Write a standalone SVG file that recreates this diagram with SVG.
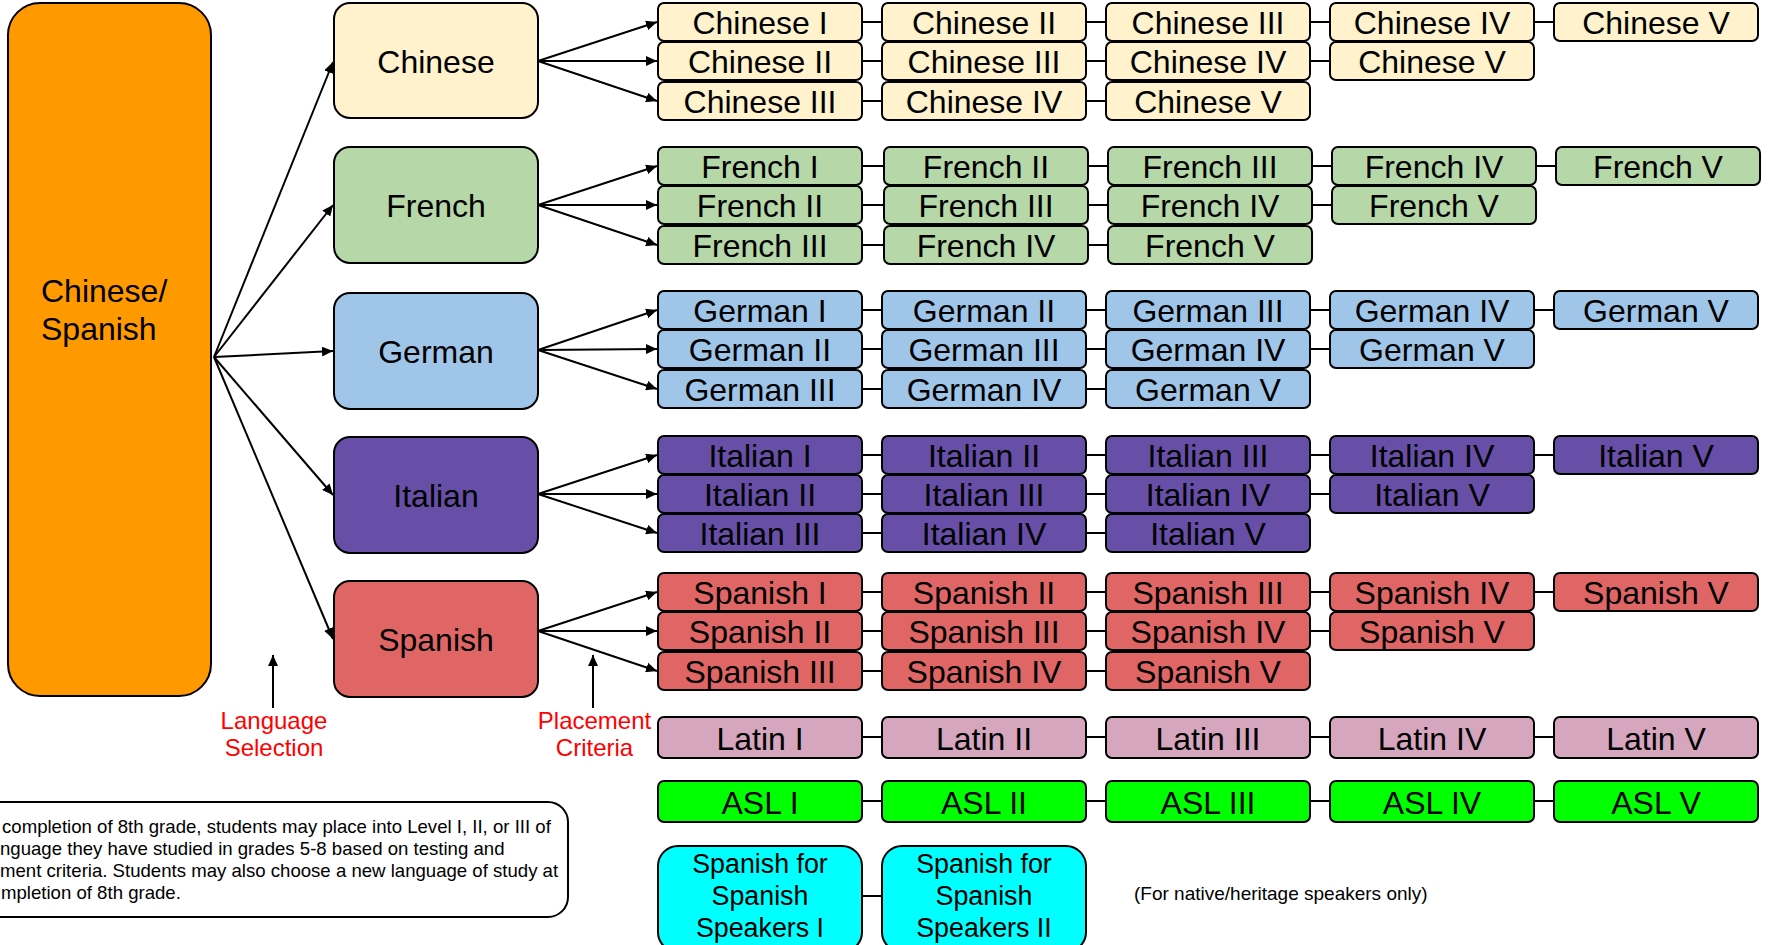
<svg xmlns="http://www.w3.org/2000/svg" width="1772" height="945" viewBox="0 0 1772 945">
<style>
.b{stroke:#000;stroke-width:2}
.t{font-family:"Liberation Sans",Arial,sans-serif;font-size:32px;text-anchor:middle;fill:#000}
.zh{fill:#FFF2CC}.fr{fill:#B6D7A8}.de{fill:#9FC5E8}.it{fill:#674EA7}.es{fill:#E06666}.la{fill:#D5A6BD}.asl{fill:#00FF00}.ss{fill:#00FFFF}.or{fill:#FF9900}
.c{stroke:#000;stroke-width:2;fill:none}
.a{marker-end:url(#ah)}
.red{font-family:"Liberation Sans",Arial,sans-serif;font-size:24px;text-anchor:middle;fill:#FF0000}
.note{font-family:"Liberation Sans",Arial,sans-serif;font-size:18.6px;fill:#000}
.sm{font-family:"Liberation Sans",Arial,sans-serif;font-size:19px;fill:#000}
.s26{font-family:"Liberation Sans",Arial,sans-serif;font-size:26.8px;text-anchor:middle;fill:#000}
</style>
<defs>
<marker id="ah" markerUnits="userSpaceOnUse" markerWidth="11" markerHeight="10" refX="11" refY="5" orient="auto">
<path d="M0,0 L11,5 L0,10 z" fill="#000"/>
</marker>
</defs>
<rect width="1772" height="945" fill="#fff"/>

<g id="connectors">
<path class="c a" d="M214,357 L333,62"/>
<path class="c a" d="M214,357 L333,205"/>
<path class="c a" d="M214,357 L333,351"/>
<path class="c a" d="M214,357 L333,495"/>
<path class="c a" d="M214,357 L333,639"/>
<path class="c a" d="M538,61 L657,22"/><path class="c a" d="M538,61 L657,61"/><path class="c a" d="M538,61 L657,101"/>
<path class="c a" d="M538,205 L657,166"/><path class="c a" d="M538,205 L657,205"/><path class="c a" d="M538,205 L657,245"/>
<path class="c a" d="M538,350 L657,310"/><path class="c a" d="M538,350 L657,349"/><path class="c a" d="M538,350 L657,389"/>
<path class="c a" d="M538,494 L657,455"/><path class="c a" d="M538,494 L657,494"/><path class="c a" d="M538,494 L657,533"/>
<path class="c a" d="M538,631 L657,592"/><path class="c a" d="M538,631 L657,631"/><path class="c a" d="M538,631 L657,671"/>
<path class="c a" d="M273,708 L273,655"/>
<path class="c a" d="M593,708 L593,655"/>
<path class="c" d="M862,22H882M1086,22H1106M1310,22H1330M1534,22H1554M862,61H882M1086,61H1106M1310,61H1330M862,101H882M1086,101H1106"/>
<path class="c" d="M862,166H884M1088,166H1108M1312,166H1332M1536,166H1556M862,205H884M1088,205H1108M1312,205H1332M862,245H884M1088,245H1108"/>
<path class="c" d="M862,310H882M1086,310H1106M1310,310H1330M1534,310H1554M862,349H882M1086,349H1106M1310,349H1330M862,389H882M1086,389H1106"/>
<path class="c" d="M862,455H882M1086,455H1106M1310,455H1330M1534,455H1554M862,494H882M1086,494H1106M1310,494H1330M862,533H882M1086,533H1106"/>
<path class="c" d="M862,592H882M1086,592H1106M1310,592H1330M1534,592H1554M862,631H882M1086,631H1106M1310,631H1330M862,671H882M1086,671H1106"/>
<path class="c" d="M862,737H882M1086,737H1106M1310,737H1330M1534,737H1554"/>
<path class="c" d="M862,801H882M1086,801H1106M1310,801H1330M1534,801H1554"/>
<path class="c" d="M862,896H882"/>
</g>

<g id="chinese-spanish"><rect class="b or" x="8" y="3" width="203" height="693" rx="32"/><text class="t" style="text-anchor:start" x="41" y="302">Chinese/</text><text class="t" style="text-anchor:start" x="41" y="340">Spanish</text></g>

<g id="chinese"><rect class="b zh" x="334" y="3" width="204" height="115" rx="16"/><text class="t" x="436" y="72.5">Chinese</text></g>
<g id="french"><rect class="b fr" x="334" y="147" width="204" height="116" rx="16"/><text class="t" x="436" y="217">French</text></g>
<g id="german"><rect class="b de" x="334" y="293" width="204" height="116" rx="16"/><text class="t" x="436" y="363">German</text></g>
<g id="italian"><rect class="b it" x="334" y="437" width="204" height="116" rx="16"/><text class="t" x="436" y="507">Italian</text></g>
<g id="spanish"><rect class="b es" x="334" y="581" width="204" height="116" rx="16"/><text class="t" x="436" y="651">Spanish</text></g>

<g id="zh-r1-c1"><rect class="b zh" x="658" y="3" width="204" height="38" rx="6"/><text class="t" x="760" y="33.5">Chinese I</text></g>
<g id="zh-r1-c2"><rect class="b zh" x="882" y="3" width="204" height="38" rx="6"/><text class="t" x="984" y="33.5">Chinese II</text></g>
<g id="zh-r1-c3"><rect class="b zh" x="1106" y="3" width="204" height="38" rx="6"/><text class="t" x="1208" y="33.5">Chinese III</text></g>
<g id="zh-r1-c4"><rect class="b zh" x="1330" y="3" width="204" height="38" rx="6"/><text class="t" x="1432" y="33.5">Chinese IV</text></g>
<g id="zh-r1-c5"><rect class="b zh" x="1554" y="3" width="204" height="38" rx="6"/><text class="t" x="1656" y="33.5">Chinese V</text></g>
<g id="zh-r2-c1"><rect class="b zh" x="658" y="42" width="204" height="38" rx="6"/><text class="t" x="760" y="72.5">Chinese II</text></g>
<g id="zh-r2-c2"><rect class="b zh" x="882" y="42" width="204" height="38" rx="6"/><text class="t" x="984" y="72.5">Chinese III</text></g>
<g id="zh-r2-c3"><rect class="b zh" x="1106" y="42" width="204" height="38" rx="6"/><text class="t" x="1208" y="72.5">Chinese IV</text></g>
<g id="zh-r2-c4"><rect class="b zh" x="1330" y="42" width="204" height="38" rx="6"/><text class="t" x="1432" y="72.5">Chinese V</text></g>
<g id="zh-r3-c1"><rect class="b zh" x="658" y="82" width="204" height="38" rx="6"/><text class="t" x="760" y="112.5">Chinese III</text></g>
<g id="zh-r3-c2"><rect class="b zh" x="882" y="82" width="204" height="38" rx="6"/><text class="t" x="984" y="112.5">Chinese IV</text></g>
<g id="zh-r3-c3"><rect class="b zh" x="1106" y="82" width="204" height="38" rx="6"/><text class="t" x="1208" y="112.5">Chinese V</text></g>

<g id="fr-r1-c1"><rect class="b fr" x="658" y="147" width="204" height="38" rx="6"/><text class="t" x="760" y="177.5">French I</text></g>
<g id="fr-r1-c2"><rect class="b fr" x="884" y="147" width="204" height="38" rx="6"/><text class="t" x="986" y="177.5">French II</text></g>
<g id="fr-r1-c3"><rect class="b fr" x="1108" y="147" width="204" height="38" rx="6"/><text class="t" x="1210" y="177.5">French III</text></g>
<g id="fr-r1-c4"><rect class="b fr" x="1332" y="147" width="204" height="38" rx="6"/><text class="t" x="1434" y="177.5">French IV</text></g>
<g id="fr-r1-c5"><rect class="b fr" x="1556" y="147" width="204" height="38" rx="6"/><text class="t" x="1658" y="177.5">French V</text></g>
<g id="fr-r2-c1"><rect class="b fr" x="658" y="186" width="204" height="38" rx="6"/><text class="t" x="760" y="216.5">French II</text></g>
<g id="fr-r2-c2"><rect class="b fr" x="884" y="186" width="204" height="38" rx="6"/><text class="t" x="986" y="216.5">French III</text></g>
<g id="fr-r2-c3"><rect class="b fr" x="1108" y="186" width="204" height="38" rx="6"/><text class="t" x="1210" y="216.5">French IV</text></g>
<g id="fr-r2-c4"><rect class="b fr" x="1332" y="186" width="204" height="38" rx="6"/><text class="t" x="1434" y="216.5">French V</text></g>
<g id="fr-r3-c1"><rect class="b fr" x="658" y="226" width="204" height="38" rx="6"/><text class="t" x="760" y="256.5">French III</text></g>
<g id="fr-r3-c2"><rect class="b fr" x="884" y="226" width="204" height="38" rx="6"/><text class="t" x="986" y="256.5">French IV</text></g>
<g id="fr-r3-c3"><rect class="b fr" x="1108" y="226" width="204" height="38" rx="6"/><text class="t" x="1210" y="256.5">French V</text></g>

<g id="de-r1-c1"><rect class="b de" x="658" y="291" width="204" height="38" rx="6"/><text class="t" x="760" y="321.5">German I</text></g>
<g id="de-r1-c2"><rect class="b de" x="882" y="291" width="204" height="38" rx="6"/><text class="t" x="984" y="321.5">German II</text></g>
<g id="de-r1-c3"><rect class="b de" x="1106" y="291" width="204" height="38" rx="6"/><text class="t" x="1208" y="321.5">German III</text></g>
<g id="de-r1-c4"><rect class="b de" x="1330" y="291" width="204" height="38" rx="6"/><text class="t" x="1432" y="321.5">German IV</text></g>
<g id="de-r1-c5"><rect class="b de" x="1554" y="291" width="204" height="38" rx="6"/><text class="t" x="1656" y="321.5">German V</text></g>
<g id="de-r2-c1"><rect class="b de" x="658" y="330" width="204" height="38" rx="6"/><text class="t" x="760" y="360.5">German II</text></g>
<g id="de-r2-c2"><rect class="b de" x="882" y="330" width="204" height="38" rx="6"/><text class="t" x="984" y="360.5">German III</text></g>
<g id="de-r2-c3"><rect class="b de" x="1106" y="330" width="204" height="38" rx="6"/><text class="t" x="1208" y="360.5">German IV</text></g>
<g id="de-r2-c4"><rect class="b de" x="1330" y="330" width="204" height="38" rx="6"/><text class="t" x="1432" y="360.5">German V</text></g>
<g id="de-r3-c1"><rect class="b de" x="658" y="370" width="204" height="38" rx="6"/><text class="t" x="760" y="400.5">German III</text></g>
<g id="de-r3-c2"><rect class="b de" x="882" y="370" width="204" height="38" rx="6"/><text class="t" x="984" y="400.5">German IV</text></g>
<g id="de-r3-c3"><rect class="b de" x="1106" y="370" width="204" height="38" rx="6"/><text class="t" x="1208" y="400.5">German V</text></g>

<g id="it-r1-c1"><rect class="b it" x="658" y="436" width="204" height="38" rx="6"/><text class="t" x="760" y="466.5">Italian I</text></g>
<g id="it-r1-c2"><rect class="b it" x="882" y="436" width="204" height="38" rx="6"/><text class="t" x="984" y="466.5">Italian II</text></g>
<g id="it-r1-c3"><rect class="b it" x="1106" y="436" width="204" height="38" rx="6"/><text class="t" x="1208" y="466.5">Italian III</text></g>
<g id="it-r1-c4"><rect class="b it" x="1330" y="436" width="204" height="38" rx="6"/><text class="t" x="1432" y="466.5">Italian IV</text></g>
<g id="it-r1-c5"><rect class="b it" x="1554" y="436" width="204" height="38" rx="6"/><text class="t" x="1656" y="466.5">Italian V</text></g>
<g id="it-r2-c1"><rect class="b it" x="658" y="475" width="204" height="38" rx="6"/><text class="t" x="760" y="505.5">Italian II</text></g>
<g id="it-r2-c2"><rect class="b it" x="882" y="475" width="204" height="38" rx="6"/><text class="t" x="984" y="505.5">Italian III</text></g>
<g id="it-r2-c3"><rect class="b it" x="1106" y="475" width="204" height="38" rx="6"/><text class="t" x="1208" y="505.5">Italian IV</text></g>
<g id="it-r2-c4"><rect class="b it" x="1330" y="475" width="204" height="38" rx="6"/><text class="t" x="1432" y="505.5">Italian V</text></g>
<g id="it-r3-c1"><rect class="b it" x="658" y="514" width="204" height="38" rx="6"/><text class="t" x="760" y="544.5">Italian III</text></g>
<g id="it-r3-c2"><rect class="b it" x="882" y="514" width="204" height="38" rx="6"/><text class="t" x="984" y="544.5">Italian IV</text></g>
<g id="it-r3-c3"><rect class="b it" x="1106" y="514" width="204" height="38" rx="6"/><text class="t" x="1208" y="544.5">Italian V</text></g>

<g id="es-r1-c1"><rect class="b es" x="658" y="573" width="204" height="38" rx="6"/><text class="t" x="760" y="603.5">Spanish I</text></g>
<g id="es-r1-c2"><rect class="b es" x="882" y="573" width="204" height="38" rx="6"/><text class="t" x="984" y="603.5">Spanish II</text></g>
<g id="es-r1-c3"><rect class="b es" x="1106" y="573" width="204" height="38" rx="6"/><text class="t" x="1208" y="603.5">Spanish III</text></g>
<g id="es-r1-c4"><rect class="b es" x="1330" y="573" width="204" height="38" rx="6"/><text class="t" x="1432" y="603.5">Spanish IV</text></g>
<g id="es-r1-c5"><rect class="b es" x="1554" y="573" width="204" height="38" rx="6"/><text class="t" x="1656" y="603.5">Spanish V</text></g>
<g id="es-r2-c1"><rect class="b es" x="658" y="612" width="204" height="38" rx="6"/><text class="t" x="760" y="642.5">Spanish II</text></g>
<g id="es-r2-c2"><rect class="b es" x="882" y="612" width="204" height="38" rx="6"/><text class="t" x="984" y="642.5">Spanish III</text></g>
<g id="es-r2-c3"><rect class="b es" x="1106" y="612" width="204" height="38" rx="6"/><text class="t" x="1208" y="642.5">Spanish IV</text></g>
<g id="es-r2-c4"><rect class="b es" x="1330" y="612" width="204" height="38" rx="6"/><text class="t" x="1432" y="642.5">Spanish V</text></g>
<g id="es-r3-c1"><rect class="b es" x="658" y="652" width="204" height="38" rx="6"/><text class="t" x="760" y="682.5">Spanish III</text></g>
<g id="es-r3-c2"><rect class="b es" x="882" y="652" width="204" height="38" rx="6"/><text class="t" x="984" y="682.5">Spanish IV</text></g>
<g id="es-r3-c3"><rect class="b es" x="1106" y="652" width="204" height="38" rx="6"/><text class="t" x="1208" y="682.5">Spanish V</text></g>

<g id="la-1"><rect class="b la" x="658" y="717" width="204" height="41" rx="6"/><text class="t" x="760" y="749.5">Latin I</text></g>
<g id="la-2"><rect class="b la" x="882" y="717" width="204" height="41" rx="6"/><text class="t" x="984" y="749.5">Latin II</text></g>
<g id="la-3"><rect class="b la" x="1106" y="717" width="204" height="41" rx="6"/><text class="t" x="1208" y="749.5">Latin III</text></g>
<g id="la-4"><rect class="b la" x="1330" y="717" width="204" height="41" rx="6"/><text class="t" x="1432" y="749.5">Latin IV</text></g>
<g id="la-5"><rect class="b la" x="1554" y="717" width="204" height="41" rx="6"/><text class="t" x="1656" y="749.5">Latin V</text></g>

<g id="asl-1"><rect class="b asl" x="658" y="781" width="204" height="41" rx="6"/><text class="t" x="760" y="813.5">ASL I</text></g>
<g id="asl-2"><rect class="b asl" x="882" y="781" width="204" height="41" rx="6"/><text class="t" x="984" y="813.5">ASL II</text></g>
<g id="asl-3"><rect class="b asl" x="1106" y="781" width="204" height="41" rx="6"/><text class="t" x="1208" y="813.5">ASL III</text></g>
<g id="asl-4"><rect class="b asl" x="1330" y="781" width="204" height="41" rx="6"/><text class="t" x="1432" y="813.5">ASL IV</text></g>
<g id="asl-5"><rect class="b asl" x="1554" y="781" width="204" height="41" rx="6"/><text class="t" x="1656" y="813.5">ASL V</text></g>

<g id="ss-1"><rect class="b ss" x="658" y="846" width="204" height="106" rx="20"/><text class="s26" x="760" y="873">Spanish for</text><text class="s26" x="760" y="905">Spanish</text><text class="s26" x="760" y="937">Speakers I</text></g>
<g id="ss-2"><rect class="b ss" x="882" y="846" width="204" height="106" rx="20"/><text class="s26" x="984" y="873">Spanish for</text><text class="s26" x="984" y="905">Spanish</text><text class="s26" x="984" y="937">Speakers II</text></g>

<g id="label-language"><text class="red" x="274" y="729">Language</text><text class="red" x="274" y="756">Selection</text></g>
<g id="label-placement"><text class="red" x="594.5" y="729">Placement</text><text class="red" x="594.5" y="756">Criteria</text></g>

<g id="note"><rect class="b" fill="#fff" x="-40" y="802" width="608" height="115" rx="20"/>
<text class="note" x="2" y="833">completion of 8th grade, students may place into Level I, II, or III of</text>
<text class="note" x="0" y="855">nguage they have studied in grades 5-8 based on testing and</text>
<text class="note" x="0" y="877">ment criteria. Students may also choose a new language of study at</text>
<text class="note" x="1" y="899">mpletion of 8th grade.</text></g>

<g id="native-note"><text class="sm" x="1134" y="900">(For native/heritage speakers only)</text></g>
</svg>
